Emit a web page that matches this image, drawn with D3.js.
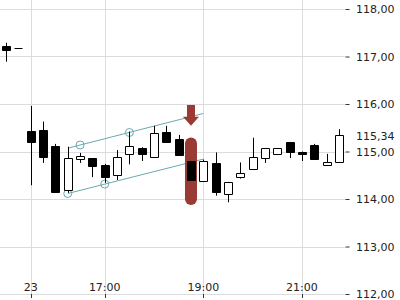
<!DOCTYPE html>
<html><head><meta charset="utf-8">
<script src="https://cdn.jsdelivr.net/npm/d3@7"></script>
<style>body{margin:0;background:#fff}svg{display:block;font-family:"DejaVu Sans",sans-serif}</style>
</head><body><svg id="c" width="400" height="300"></svg>
<script>
// 15-minute candles (index order)
const opens  = [117.22,117.17,115.43,115.46,115.12,114.19,114.84,114.86,114.72,114.51,114.95,115.08,114.88,115.40,115.26,114.79,114.38,114.75,114.10,114.47,114.63,114.86,114.94,115.19,115.00,115.14,114.71,114.77];
const highs  = [117.29,117.17,115.96,115.63,115.16,115.10,114.97,114.86,114.74,115.03,115.42,115.09,115.54,115.54,115.35,114.79,114.83,114.98,114.36,114.77,115.29,115.07,115.07,115.19,115.00,115.16,114.95,115.47];
const lows   = [116.89,117.17,114.29,114.76,114.15,114.13,114.76,114.46,114.34,114.40,114.73,114.80,114.88,115.19,114.93,114.39,114.38,114.07,113.93,114.43,114.63,114.76,114.94,114.86,114.80,114.84,114.71,114.77];
const closes = [117.13,117.17,115.19,114.89,114.15,114.86,114.91,114.69,114.46,114.88,115.12,114.94,115.38,115.21,114.93,114.39,114.81,114.15,114.36,114.55,114.88,115.07,115.07,115.00,114.95,114.84,114.77,115.34];

const xTickIndex  = [2, 8, 16, 24];
const xTickLabels = ["23", "17:00", "19:00", "21:00"];
const yTicks = [112, 113, 114, 115, 116, 117, 118];
const lastPrice = 115.34;

const upperChannel = [{i:5, v:115.07}, {i:16, v:115.80}];
const lowerChannel = [{i:5, v:114.116}, {i:16, v:114.84}];
const channelAnchors = [{i:6, v:115.137}, {i:10, v:115.40}, {i:5, v:114.116}, {i:8, v:114.314}];

const signalIndex = 15;
const signalArrowTop = 115.98, signalArrowTip = 115.54;
const signalBarTop = 115.17, signalBarBottom = 114.00;

const svg = d3.select("#c");
const W = 345, B = 294;
const x = d3.scaleLinear().domain([-0.5, 27.5]).range([0, W]);
const y = d3.scaleLinear().domain([112, 118]).range([B, 9]);
const px = v => Math.round(v) + 0.5;
const fmt = v => v.toFixed(2).replace(".", ",");
const gridC = "#dcdcdc", teal = "#6aa9b1", red = "#993a33";

// grid
const g = svg.append("g");
g.selectAll("line.h").data(yTicks).join("line")
  .attr("x1", 0).attr("x2", W).attr("y1", d => px(y(d))).attr("y2", d => px(y(d)))
  .attr("stroke", gridC).attr("stroke-width", 1);
g.selectAll("line.v").data(xTickIndex).join("line")
  .attr("x1", d => px(x(d))).attr("x2", d => px(x(d))).attr("y1", 0).attr("y2", B)
  .attr("stroke", gridC).attr("stroke-width", 1);

// channel
const line = d3.line().x(d => x(d.i)).y(d => y(d.v));
[upperChannel, lowerChannel].forEach(c => {
  svg.append("path").attr("d", line(c)).attr("fill", "none").attr("stroke", teal).attr("stroke-width", 1);
});
svg.selectAll("circle.a").data(channelAnchors).join("circle")
  .attr("cx", d => x(d.i)).attr("cy", d => y(d.v)).attr("r", 4)
  .attr("fill", "none").attr("stroke", teal).attr("stroke-width", 1);

// signal marker
const sx = x(signalIndex);
svg.append("line").attr("x1", sx).attr("x2", sx)
  .attr("y1", y(signalBarTop)).attr("y2", y(signalBarBottom))
  .attr("stroke", red).attr("stroke-width", 12).attr("stroke-linecap", "round");
const at = y(signalArrowTop), ap = y(signalArrowTip), ah = 9;
svg.append("path")
  .attr("d", `M${sx-4},${at}H${sx+4}V${ap-ah}H${sx+8}L${sx},${ap}L${sx-8},${ap-ah}H${sx-4}Z`)
  .attr("fill", red);

// candles
const idx = d3.range(opens.length);
const bodyTop = i => Math.round(y(Math.max(opens[i], closes[i])));
const bodyBot = i => Math.round(y(Math.min(opens[i], closes[i])));
const cg = svg.append("g");
cg.selectAll("line.w").data(idx).join("line")
  .attr("x1", i => px(x(i))).attr("x2", i => px(x(i)))
  .attr("y1", i => y(highs[i])).attr("y2", i => y(lows[i]))
  .attr("stroke", "#000").attr("stroke-width", 1);
cg.selectAll("path.b").data(idx).join("path")
  .attr("d", i => {
    const x0 = Math.round(x(i)) - 4 + 0.5, y0 = bodyTop(i) + 0.5, h = bodyBot(i) - bodyTop(i);
    return h > 0 ? `M${x0},${y0}h8v${h}h-8Z` : `M${x0},${y0}h8`;
  })
  .attr("fill", i => closes[i] < opens[i] ? "#000" : "#fff")
  .attr("stroke", "#000").attr("stroke-width", 1);

// right axis
const ax = svg.append("g").attr("transform", `translate(${W},0)`)
  .call(d3.axisRight(y).tickValues(yTicks).tickSize(4).tickPadding(7).tickFormat(fmt));
ax.select(".domain").remove();
ax.selectAll("line").attr("stroke", "#333").attr("transform", "translate(0.5,0)");
ax.selectAll("text").attr("font-size", 11).attr("fill", "#222").attr("font-family", "DejaVu Sans");
svg.append("text").attr("x", W + 11).attr("y", y(lastPrice) + 1).attr("dy", "0.32em")
  .attr("font-size", 11).attr("fill", "#222").text(fmt(lastPrice));

// bottom ticks and labels
svg.selectAll("line.xt").data(xTickIndex).join("line")
  .attr("x1", d => px(x(d))).attr("x2", d => px(x(d))).attr("y1", B).attr("y2", B + 4)
  .attr("stroke", "#333");
svg.selectAll("text.xl").data(xTickIndex).join("text")
  .attr("x", d => x(d)).attr("y", 291).attr("text-anchor", "middle")
  .attr("font-size", 11).attr("fill", "#222").text((d, k) => xTickLabels[k]);
</script></body></html>
